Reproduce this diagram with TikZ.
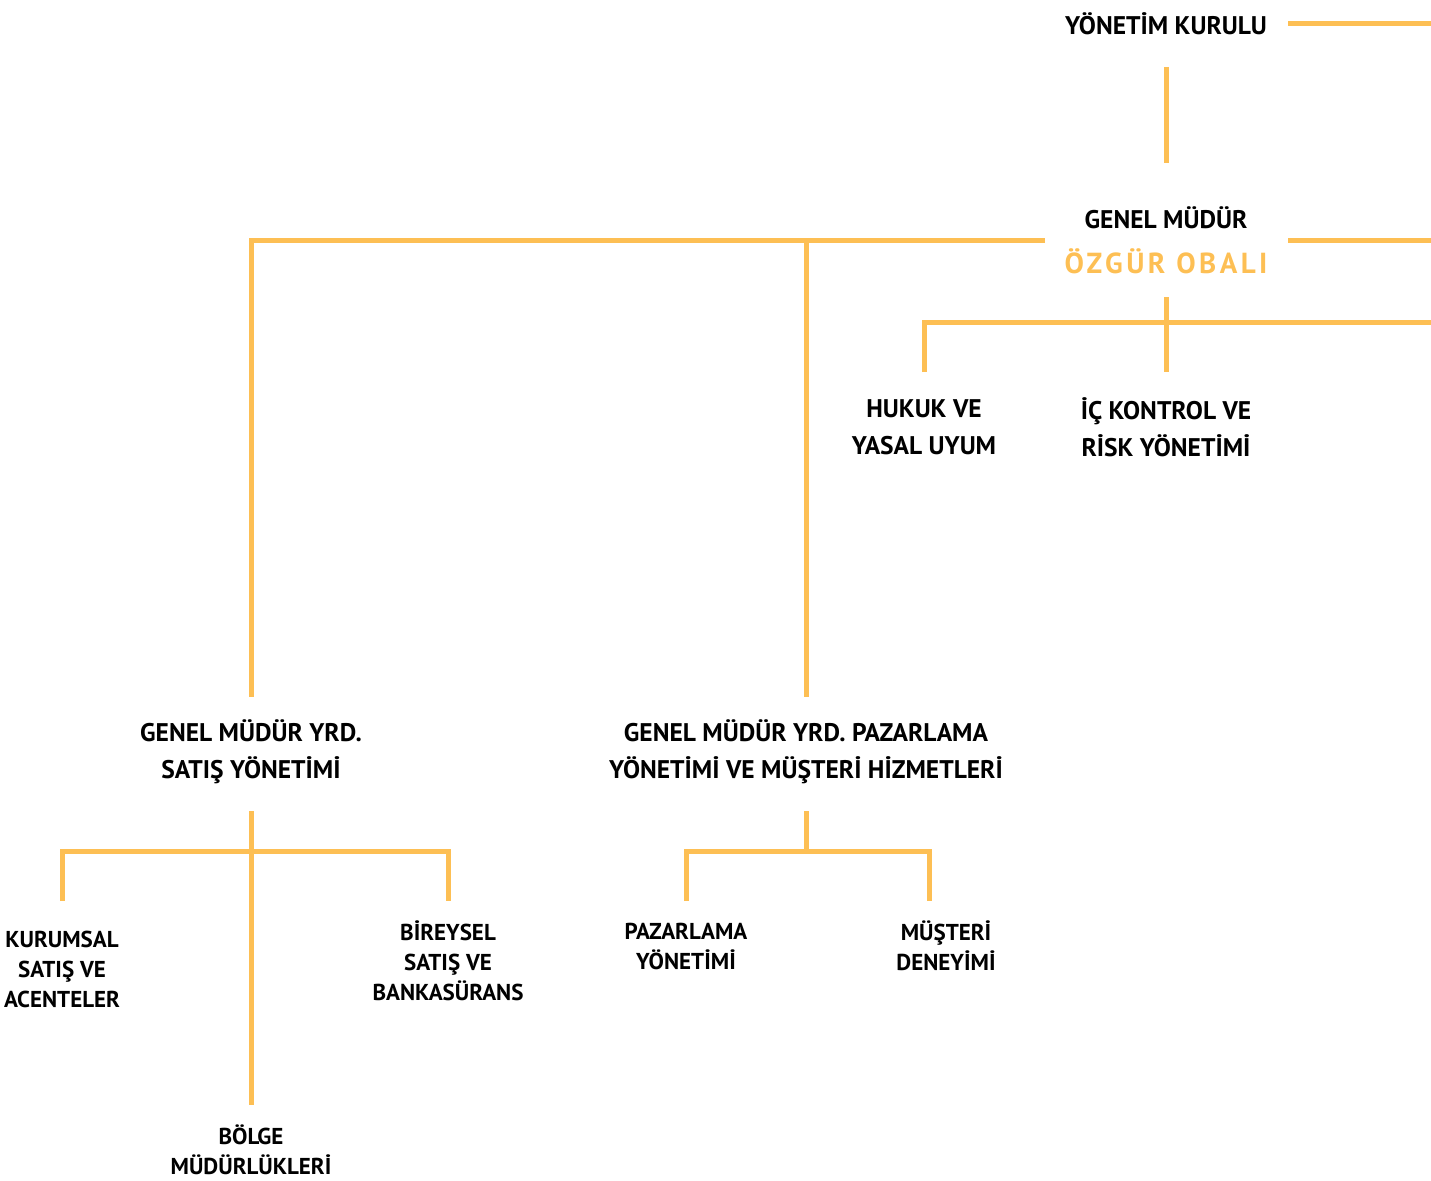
\documentclass[tikz,border=0pt]{standalone}
\usepackage{fontspec}
\setmainfont{PT Sans}
\definecolor{turuncu}{RGB}{253,191,84}
\tikzset{
	baslik/.style={font=\fontsize{25.5}{37}\selectfont\bfseries, align=center, inner sep=0pt},
	birim/.style={font=\fontsize{23}{30}\selectfont\bfseries, align=center, inner sep=0pt},
	hat/.style={draw=turuncu, line width=5pt}
}
\begin{document}
\begin{tikzpicture}[x=1pt, y=-1pt]
	\useasboundingbox (0,0) rectangle (1431,1180);
	\coordinate (kenar) at (1431,0);
	
	\node[baslik] (yk) at (1166,24) {YÖNETİM KURULU};
	\node[baslik] (gm) at (1166,240) {GENEL MÜDÜR\\[8pt]{\color{turuncu}\fontsize{29}{30}\selectfont\addfontfeature{LetterSpace=12}ÖZGÜR OBALI}};
	
	\node[baslik] (hukuk) at (924,427) {HUKUK VE\\YASAL UYUM};
	\node[baslik] (ic) at (1166,427) {İÇ KONTROL VE\\RİSK YÖNETİMİ};
	
	\node[baslik] (satis) at (251,752) {GENEL MÜDÜR YRD.\\SATIŞ YÖNETİMİ};
	\node[baslik] (pazar) at (806,752) {GENEL MÜDÜR YRD. PAZARLAMA\\YÖNETİMİ VE MÜŞTERİ HİZMETLERİ};
	
	\node[birim] (kurumsal) at (62,969) {KURUMSAL\\SATIŞ VE\\ACENTELER};
	\node[birim] (bolge) at (251,1150) {BÖLGE\\MÜDÜRLÜKLERİ};
	\node[birim] (bireysel) at (448,961) {BİREYSEL\\SATIŞ VE\\BANKASÜRANS};
	\node[birim] (pyon) at (686,946) {PAZARLAMA\\YÖNETİMİ};
	\node[birim] (deneyim) at (946,946) {MÜŞTERİ\\DENEYİMİ};
	
	\coordinate (gmAlt) at (1166,322);
	\coordinate (satisAlt) at (251,851);
	\coordinate (pazarAlt) at (806,851);
	\coordinate (deneyimUst) at (929,851);
	
	\draw[hat, shorten <=122pt] (yk.center) -- (yk.center -| kenar);
	\draw[hat, shorten <=43pt, shorten >=77pt] (yk.center) -- (gm.center);
	\draw[hat, shorten <=122pt] (gm.center) -- (gm.center -| kenar);
	\draw[hat, shorten <=121pt, shorten >=55pt] (gm.center) -- (gm.center -| satis) -- (satis.center);
	\draw[hat, shorten >=55pt] (gm.center -| pazar) -- (pazar.center);
	
	\draw[hat, shorten <=57pt, shorten >=55pt] (gm.center) -- (ic.center);
	\draw[hat, shorten <=55pt] (hukuk.center) -- (hukuk.center |- gmAlt) -- (gmAlt -| kenar);
	
	\draw[hat, shorten <=59pt, shorten >=45pt] (satis.center) -- (bolge.center);
	\draw[hat, shorten <=68pt, shorten >=60pt] (kurumsal.center) -- (kurumsal.center |- satisAlt) -- (bireysel.center |- satisAlt) -- (bireysel.center);
	
	\draw[hat, shorten <=59pt] (pazar.center) -- (pazarAlt);
	\draw[hat, shorten <=45pt, shorten >=45pt] (pyon.center) -- (pyon.center |- pazarAlt) -- (deneyimUst) -- (deneyimUst |- deneyim.center);
\end{tikzpicture}
\end{document}
